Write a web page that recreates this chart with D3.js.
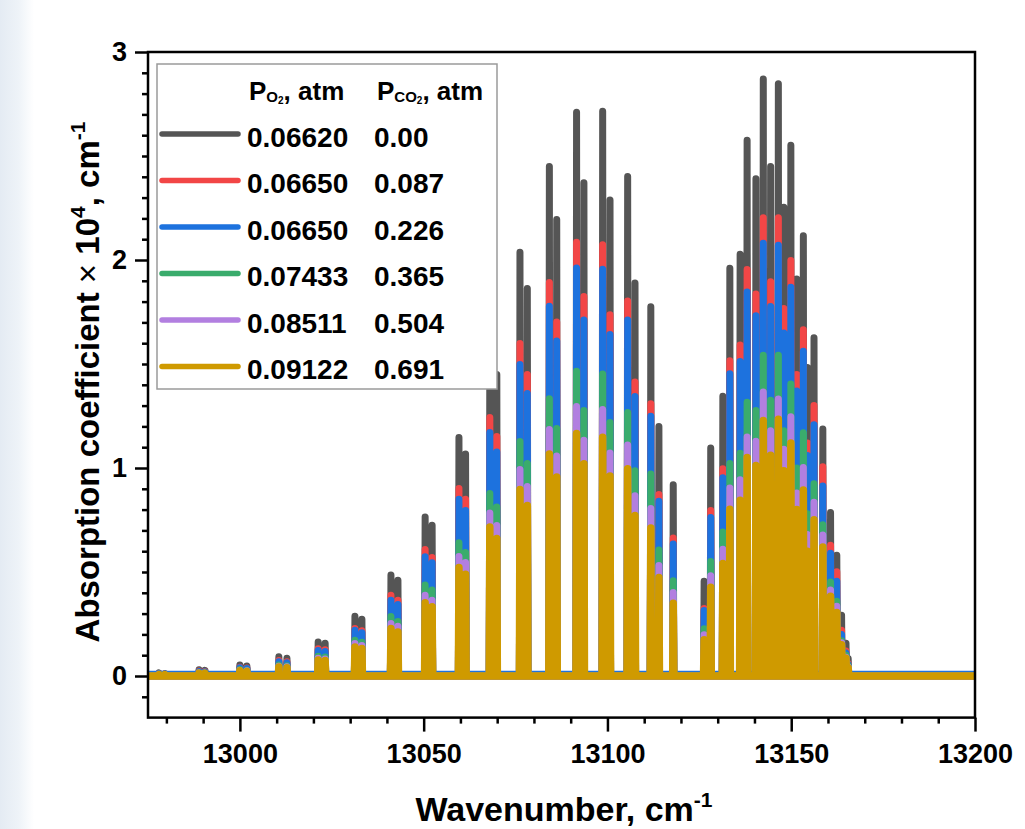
<!DOCTYPE html>
<html>
<head>
<meta charset="utf-8">
<script src="https://cdn.jsdelivr.net/npm/d3@7"></script>
<style>
  html, body { margin: 0; padding: 0; background: #ffffff; }
  svg { display: block; font-family: "Liberation Sans", Arial, Helvetica, sans-serif; }
</style>
</head>
<body>
<svg id="chart" width="1025" height="829"></svg>
<script>
// Line centres of the O2 A-band (P and R branches), cm^-1
const wavenumbers = [
  12978.0, 12979.6, 12988.9, 12990.5, 13000.0, 13001.9, 13010.6, 13012.8,
  13021.3, 13023.2, 13031.3, 13033.2, 13041.1, 13043.0, 13050.4, 13052.3,
  13059.6, 13061.4, 13068.0, 13069.9, 13076.2, 13078.2, 13084.2, 13086.2,
  13091.6, 13093.6, 13098.7, 13100.7, 13105.5, 13107.5, 13111.8, 13114.0,
  13117.9,
  13126.3, 13128.1, 13131.4, 13133.3, 13136.1, 13138.0, 13140.4, 13142.4,
  13144.4, 13146.5, 13148.0, 13149.9, 13151.5, 13153.3, 13154.4, 13156.2,
  13158.6, 13160.7, 13162.4, 13163.7, 13164.9, 13165.5
];

// Peak absorption coefficient (x 10^4, cm^-1) at each line centre, one array per mixture
const absCO2_000 = [
  0.015, 0.012, 0.030, 0.027, 0.053, 0.048, 0.092, 0.085,
  0.164, 0.157, 0.287, 0.273, 0.485, 0.460, 0.765, 0.725,
  1.147, 1.067, 1.570, 1.450, 2.037, 1.863, 2.450, 2.195,
  2.710, 2.371, 2.715, 2.288, 2.402, 1.889, 1.775, 1.200,
  0.920,
  0.456, 1.096, 1.345, 1.960, 2.028, 2.576, 2.391, 2.870,
  2.450, 2.847, 2.254, 2.552, 1.909, 2.117, 1.483, 1.626,
  1.188, 0.786, 0.580, 0.292, 0.158, 0.084
];
const absCO2_087 = [
  0.012, 0.010, 0.024, 0.022, 0.042, 0.038, 0.074, 0.068,
  0.131, 0.126, 0.228, 0.217, 0.388, 0.364, 0.608, 0.570,
  0.902, 0.850, 1.243, 1.151, 1.599, 1.450, 1.892, 1.702,
  2.085, 1.825, 2.073, 1.737, 1.803, 1.414, 1.309, 0.873,
  0.663,
  0.325, 0.796, 0.996, 1.516, 1.591, 1.954, 1.836, 2.203,
  1.895, 2.203, 1.767, 1.997, 1.450, 1.665, 1.120, 1.300,
  1.006, 0.629, 0.501, 0.220, 0.120, 0.060
];
const absCO2_226 = [
  0.011, 0.010, 0.022, 0.020, 0.040, 0.036, 0.069, 0.064,
  0.123, 0.118, 0.220, 0.208, 0.364, 0.344, 0.573, 0.544,
  0.850, 0.796, 1.171, 1.077, 1.498, 1.358, 1.778, 1.610,
  1.962, 1.712, 1.955, 1.642, 1.712, 1.344, 1.249, 0.840,
  0.635,
  0.315, 0.762, 0.953, 1.453, 1.512, 1.846, 1.732, 2.081,
  1.777, 2.071, 1.649, 1.869, 1.370, 1.561, 1.060, 1.208,
  0.914, 0.590, 0.456, 0.200, 0.110, 0.055
];
const absCO2_365 = [
  0.009, 0.008, 0.017, 0.016, 0.031, 0.028, 0.053, 0.049,
  0.095, 0.091, 0.172, 0.162, 0.286, 0.262, 0.437, 0.413,
  0.641, 0.594, 0.877, 0.812, 1.127, 1.022, 1.333, 1.190,
  1.465, 1.276, 1.452, 1.219, 1.267, 0.987, 0.971, 0.606,
  0.458,
  0.227, 0.550, 0.692, 1.022, 1.071, 1.316, 1.276, 1.542,
  1.326, 1.542, 1.179, 1.404, 1.000, 1.169, 0.780, 0.924,
  0.727, 0.452, 0.359, 0.170, 0.100, 0.050
];
const absCO2_504 = [
  0.008, 0.007, 0.015, 0.014, 0.027, 0.025, 0.047, 0.044,
  0.085, 0.082, 0.156, 0.147, 0.252, 0.239, 0.388, 0.364,
  0.575, 0.546, 0.784, 0.724, 0.993, 0.911, 1.185, 1.058,
  1.296, 1.134, 1.281, 1.072, 1.110, 0.866, 0.805, 0.531,
  0.402,
  0.198, 0.482, 0.609, 0.904, 0.943, 1.149, 1.129, 1.365,
  1.179, 1.332, 1.090, 1.246, 0.880, 1.002, 0.680, 0.835,
  0.678, 0.413, 0.335, 0.160, 0.090, 0.045
];
const absCO2_691 = [
  0.007, 0.006, 0.014, 0.013, 0.025, 0.022, 0.043, 0.040,
  0.077, 0.074, 0.140, 0.132, 0.228, 0.212, 0.352, 0.333,
  0.522, 0.489, 0.716, 0.661, 0.897, 0.820, 1.067, 0.957,
  1.166, 1.020, 1.148, 0.962, 0.996, 0.772, 0.711, 0.473,
  0.350,
  0.174, 0.427, 0.541, 0.802, 0.845, 1.051, 1.012, 1.228,
  1.061, 1.234, 0.987, 1.120, 0.800, 0.894, 0.600, 0.751,
  0.620, 0.384, 0.305, 0.150, 0.085, 0.040
];

// Legend entries: partial pressures of O2 and CO2, atm
const pO2Labels  = ["0.06620", "0.06650", "0.06650", "0.07433", "0.08511", "0.09122"];
const pCO2Labels = ["0.00", "0.087", "0.226", "0.365", "0.504", "0.691"];
const seriesColors = ["#555555", "#f24646", "#1d72de", "#3aac6c", "#b27fe0", "#cf9a00"];
const baselineLevels = [0, 0, 0.008, 0, 0, 0];

// Axes
const xTicks = [13000, 13050, 13100, 13150, 13200];
const xMinorTicks = [12980, 12990, 13010, 13020, 13030, 13040, 13060, 13070, 13080, 13090,
                     13110, 13120, 13130, 13140, 13160, 13170, 13180, 13190];
const yTicks = [0, 1, 2, 3];
const yMinorTicks = [-0.1, 0.1, 0.2, 0.3, 0.4, 0.5, 0.6, 0.7, 0.8, 0.9,
                     1.1, 1.2, 1.3, 1.4, 1.5, 1.6, 1.7, 1.8, 1.9,
                     2.1, 2.2, 2.3, 2.4, 2.5, 2.6, 2.7, 2.8, 2.9];
const xDomain = [12975, 13200];
const yDomain = [-0.2, 3];

const seriesValues = [absCO2_000, absCO2_087, absCO2_226, absCO2_365, absCO2_504, absCO2_691];

const svg = d3.select("#chart");
const W = 1025, H = 829;
const plot = { left: 148, right: 975, top: 52, bottom: 717.6 };

// soft page tint on the left edge
const defs = svg.append("defs");
const grad = defs.append("linearGradient").attr("id", "edgeTint")
  .attr("x1", 0).attr("x2", 1).attr("y1", 0).attr("y2", 0);
grad.append("stop").attr("offset", 0).attr("stop-color", "#e4ebf3");
grad.append("stop").attr("offset", 0.55).attr("stop-color", "#eef3f8");
grad.append("stop").attr("offset", 1).attr("stop-color", "#ffffff");
svg.append("rect").attr("x", 0).attr("y", 0).attr("width", W).attr("height", H).attr("fill", "#ffffff");
svg.append("rect").attr("x", 0).attr("y", 0).attr("width", 34).attr("height", H).attr("fill", "url(#edgeTint)");

defs.append("clipPath").attr("id", "plotClip")
  .append("rect")
  .attr("x", plot.left).attr("y", plot.top)
  .attr("width", plot.right - plot.left).attr("height", plot.bottom - plot.top);

const x = d3.scaleLinear().domain(xDomain).range([plot.left, plot.right]);
const y = d3.scaleLinear().domain(yDomain).range([plot.bottom, plot.top]);

// Each spectrum: baseline with narrow absorption lines at the listed centres
const halfWidth = 0.15;
function spectrumPoints(values, base) {
  const pts = [[xDomain[0], base]];
  wavenumbers.forEach((wn, i) => {
    pts.push([wn - halfWidth, base]);
    pts.push([wn, values[i]]);
    pts.push([wn + halfWidth, base]);
  });
  pts.push([xDomain[1], base]);
  return pts;
}
const line = d3.line().x(d => x(d[0])).y(d => y(d[1]));

const spectra = svg.append("g").attr("clip-path", "url(#plotClip)");
seriesValues.forEach((vals, i) => {
  spectra.append("path")
    .attr("d", line(spectrumPoints(vals, baselineLevels[i])))
    .attr("fill", "none")
    .attr("stroke", seriesColors[i])
    .attr("stroke-width", i === seriesValues.length - 1 ? 7.5 : 7)
    .attr("stroke-linejoin", "round")
    .attr("stroke-linecap", "round");
});

// Axes with major and minor ticks
const tickFont = 27;
const xMinorAxis = d3.axisBottom(x).tickValues(xMinorTicks).tickSize(6).tickFormat("");
const xMajorAxis = d3.axisBottom(x).tickValues(xTicks).tickSize(14).tickPadding(12).tickFormat(d3.format("d"));
const yMinorAxis = d3.axisLeft(y).tickValues(yMinorTicks).tickSize(6).tickFormat("");
const yMajorAxis = d3.axisLeft(y).tickValues(yTicks).tickSize(13).tickPadding(8).tickFormat(d3.format("d"));

function styleAxis(g) {
  g.select(".domain").remove();
  g.selectAll(".tick line").attr("stroke", "#000").attr("stroke-width", 2.5);
  g.selectAll(".tick text")
    .attr("fill", "#000")
    .style("font-size", tickFont + "px")
    .style("font-weight", "bold")
    .style("font-family", '"Liberation Sans", Arial, sans-serif');
}
svg.append("g").attr("transform", `translate(0,${plot.bottom})`).call(xMinorAxis).call(styleAxis);
svg.append("g").attr("transform", `translate(0,${plot.bottom})`).call(xMajorAxis).call(styleAxis);
svg.append("g").attr("transform", `translate(${plot.left},0)`).call(yMinorAxis).call(styleAxis);
svg.append("g").attr("transform", `translate(${plot.left},0)`).call(yMajorAxis).call(styleAxis);

// Plot frame
svg.append("rect")
  .attr("x", plot.left).attr("y", plot.top)
  .attr("width", plot.right - plot.left).attr("height", plot.bottom - plot.top)
  .attr("fill", "none").attr("stroke", "#000").attr("stroke-width", 2.5);

// Axis titles
const xTitle = svg.append("text")
  .attr("x", 564).attr("y", 821)
  .attr("text-anchor", "middle")
  .style("font-size", "34px").style("font-weight", "bold").attr("fill", "#000");
xTitle.append("tspan").text("Wavenumber, cm");
xTitle.append("tspan").attr("dy", -14).style("font-size", "21px").text("-1");

const yTitle = svg.append("text")
  .attr("transform", "translate(99,382) rotate(-90)")
  .attr("text-anchor", "middle")
  .style("font-size", "33px").style("font-weight", "bold").attr("fill", "#000");
yTitle.append("tspan").text("Absorption coefficient ");
yTitle.append("tspan").style("font-weight", "normal").text("\u00d7");
yTitle.append("tspan").text(" 10");
yTitle.append("tspan").attr("dy", -14).style("font-size", "21px").text("4");
yTitle.append("tspan").attr("dy", 14).text(", cm");
yTitle.append("tspan").attr("dy", -14).style("font-size", "21px").text("-1");

// Legend
const legend = svg.append("g");
legend.append("rect")
  .attr("x", 157).attr("y", 64).attr("width", 340).attr("height", 325)
  .attr("fill", "#ffffff").attr("stroke", "#9a9a9a").attr("stroke-width", 1.5);

function header(xPos, sub) {
  const t = legend.append("text").attr("x", xPos).attr("y", 100)
    .style("font-size", "26px").style("font-weight", "bold").attr("fill", "#000");
  t.append("tspan").text("P");
  t.append("tspan").attr("dy", 2).style("font-size", "15px").text(sub);
  t.append("tspan").attr("dy", 2).style("font-size", "10px").text("2");
  t.append("tspan").attr("dy", -4).text(", atm");
}
header(249, "O");
header(377, "CO");

const rowStart = 134, rowStep = 46.5;
pO2Labels.forEach((lbl, i) => {
  const ry = rowStart + i * rowStep;
  legend.append("line")
    .attr("x1", 162).attr("x2", 238).attr("y1", ry).attr("y2", ry)
    .attr("stroke", seriesColors[i]).attr("stroke-width", 5.5).attr("stroke-linecap", "round");
  legend.append("text").attr("x", 247).attr("y", ry + 12.5)
    .style("font-size", "28px").style("font-weight", "bold").attr("fill", "#000").text(lbl);
  legend.append("text").attr("x", 374).attr("y", ry + 12.5)
    .style("font-size", "28px").style("font-weight", "bold").attr("fill", "#000").text(pCO2Labels[i]);
});
</script>
</body>
</html>
